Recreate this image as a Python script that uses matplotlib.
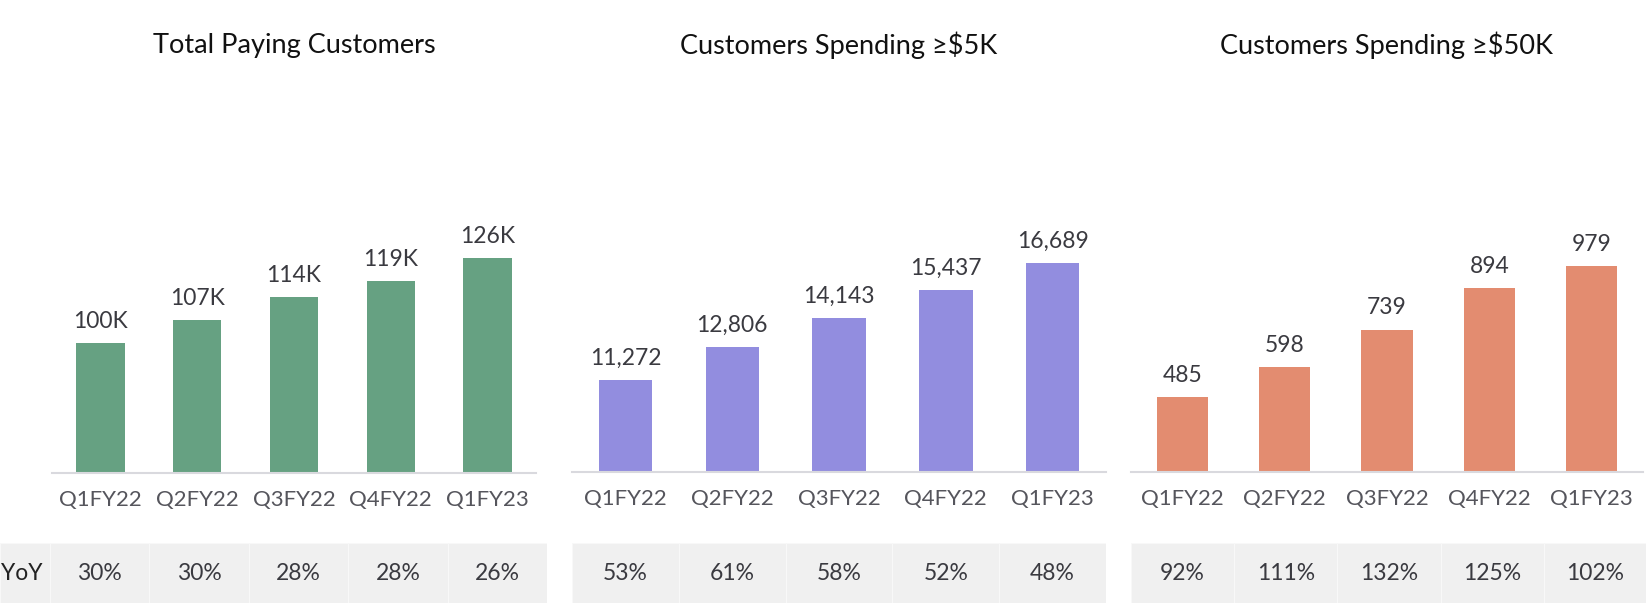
import matplotlib.pyplot as plt

plt.rcParams['font.family'] = ['Lato', 'DejaVu Sans']

# data
quarters = ["Q1FY22", "Q2FY22", "Q3FY22", "Q4FY22", "Q1FY23"]
titles = ["Total Paying Customers", "Customers Spending ≥$5K", "Customers Spending ≥$50K"]
total_paying_k = [100, 107, 114, 119, 126]
spend_5k = [11272, 12806, 14143, 15437, 16689]
spend_50k = [485, 598, 739, 894, 979]
yoy_total = ["30%", "30%", "28%", "28%", "26%"]
yoy_5k = ["53%", "61%", "58%", "52%", "48%"]
yoy_50k = ["92%", "111%", "132%", "125%", "102%"]

W, H = 1646, 607
fig = plt.figure(figsize=(W / 100, H / 100), dpi=100)


def px_axes(x0, x1, y_top, y_bot):
    # axes placed in pixel coords (origin top-left)
    return fig.add_axes([x0 / W, 1 - y_bot / H, (x1 - x0) / W, (y_bot - y_top) / H])


panels = [
    dict(title=titles[0], values=total_paying_k, labels=[f"{v}K" for v in total_paying_k],
         color="#66a182", ylim=(60, 177.5), yoy=yoy_total,
         x=(52, 536), base=473, band=(50, 547)),
    dict(title=titles[1], values=spend_5k, labels=[f"{v:,}" for v in spend_5k],
         color="#928ddf", ylim=(7030, 24690), yoy=yoy_5k,
         x=(572, 1106), base=472, band=(572, 1106)),
    dict(title=titles[2], values=spend_50k, labels=[str(v) for v in spend_50k],
         color="#e38c70", ylim=(203, 1640), yoy=yoy_50k,
         x=(1131, 1643), base=472, band=(1131, 1647)),
]

TOP = 90
BAND_TOP, BAND_BOT = 543, 603
band_color = "#f0f0f0"
text_color = "#3a3a40"

for p in panels:
    ax = px_axes(p["x"][0], p["x"][1], TOP, p["base"])
    xs = range(len(quarters))
    bars = ax.bar(xs, p["values"], width=0.5, color=p["color"])
    ax.set_xlim(-0.5, len(quarters) - 0.5)
    ax.set_ylim(*p["ylim"])
    for b, lab in zip(bars, p["labels"]):
        ax.annotate(lab, (b.get_x() + b.get_width() / 2, b.get_height()),
                    xytext=(0, 8), textcoords="offset points",
                    ha="center", va="bottom", fontsize=16.5, color=text_color)
    ax.set_xticks(list(xs), quarters)
    ax.tick_params(axis="x", length=0, pad=12, labelsize=16, labelcolor="#55555c")
    ax.set_yticks([])
    for s in ["top", "left", "right"]:
        ax.spines[s].set_visible(False)
    ax.spines["bottom"].set_color("#d9d9de")
    ax.spines["bottom"].set_linewidth(1.5)
    ax.patch.set_alpha(0)

    cx = (p["x"][0] + p["x"][1]) / 2 / W
    fig.text(cx, 1 - 45 / H, p["title"], ha="center", va="center",
             fontsize=19.5, color="#111111")

    # YoY band
    bax = px_axes(p["band"][0], p["band"][1], BAND_TOP, BAND_BOT)
    bax.bar(range(len(p["yoy"])), [1] * len(p["yoy"]), width=1, color=band_color,
            edgecolor="#f8f8f8", linewidth=0.8)
    bax.set_xlim(-0.5, len(p["yoy"]) - 0.5)
    bax.set_ylim(0, 1)
    for i, t in enumerate(p["yoy"]):
        bax.text(i, 0.5, t, ha="center", va="center", fontsize=16.5, color=text_color)
    bax.axis("off")

# "YoY" row header cell
hax = px_axes(0, 50, BAND_TOP, BAND_BOT)
hax.bar([0], [1], width=1, color=band_color, edgecolor="#f8f8f8", linewidth=0.8)
hax.set_xlim(-0.5, 0.5)
hax.set_ylim(0, 1)
hax.text(-0.06, 0.5, "YoY", ha="center", va="center", fontsize=16.5, color="#222222")
hax.axis("off")

fig.savefig("out.png", dpi=100)
